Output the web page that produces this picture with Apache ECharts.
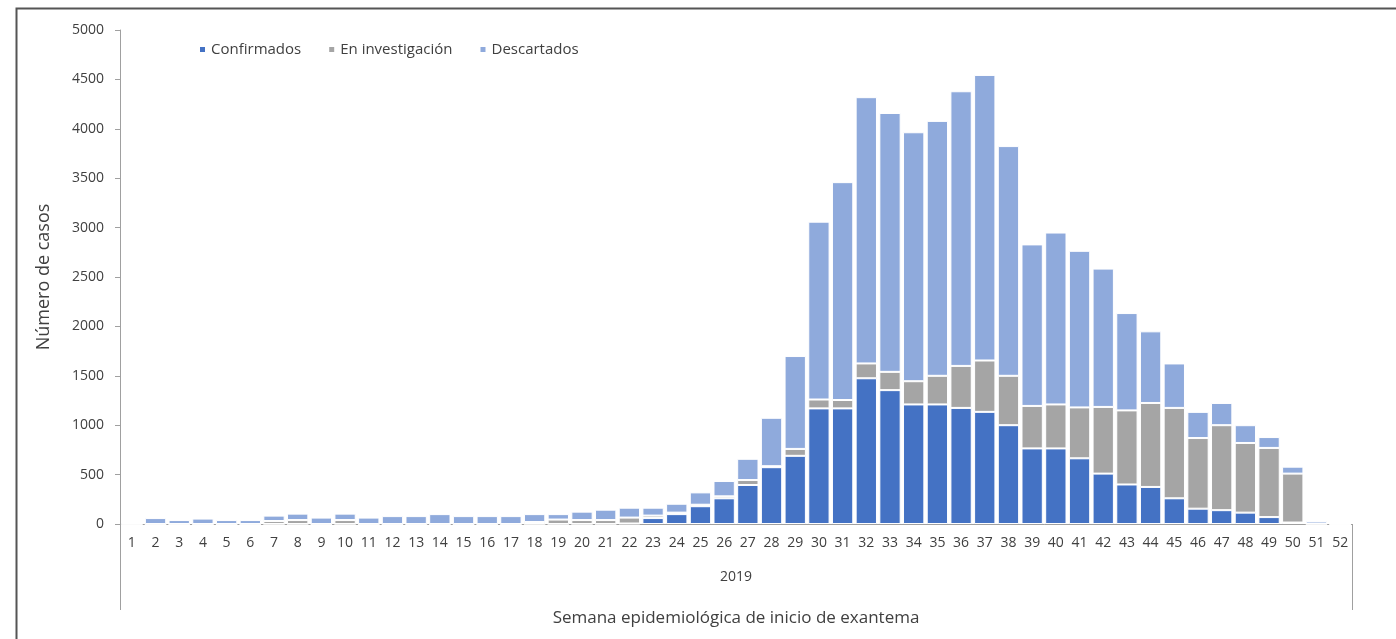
<!DOCTYPE html>
<html>
<head>
<meta charset="utf-8">
<script src="https://cdn.jsdelivr.net/npm/echarts@6/dist/echarts.min.js"></script>
<style>
  html, body { margin: 0; padding: 0; background: #fff; }
  #chart { width: 1396px; height: 639px; }
</style>
</head>
<body>
<div id="chart"></div>
<script>
// semanas epidemiológicas 1..52
var weeks = [];
for (var w = 1; w <= 52; w++) weeks.push(String(w));

var confirmados = [
  0, 0, 0, 0, 0, 0, 0, 0, 0, 0,
  0, 0, 0, 0, 0, 0, 0, 0, 0, 0,
  0, 5, 60, 100, 180, 260, 395, 575, 690, 1170,
  1170, 1475, 1355, 1210, 1210, 1175, 1135, 1000, 765, 765,
  665, 510, 400, 375, 260, 155, 140, 115, 70, 15,
  0, 0
];
var investigacion = [
  0, 0, 0, 0, 0, 0, 30, 40, 0, 40,
  0, 0, 0, 0, 0, 0, 0, 20, 45, 40,
  40, 60, 25, 15, 15, 20, 50, 10, 70, 90,
  85, 150, 185, 235, 290, 425, 520, 500, 430, 445,
  515, 675, 750, 850, 915, 715, 860, 705, 700, 495,
  5, 0
];
var descartados = [
  15, 60, 40, 55, 40, 40, 55, 65, 65, 65,
  65, 80, 80, 100, 80, 80, 80, 80, 55, 85,
  105, 100, 80, 90, 125, 155, 215, 490, 940, 1800,
  2205, 2695, 2620, 2520, 2580, 2780, 2890, 2325, 1635, 1740,
  1585, 1400, 985, 725, 450, 265, 225, 180, 110, 70,
  25, 0
];
var yTicks = [0, 500, 1000, 1500, 2000, 2500, 3000, 3500, 4000, 4500, 5000];

var font = "'Open Sans', 'Noto Sans', sans-serif";
var textColor = "#404040";

var chart = echarts.init(document.getElementById("chart"));

function serie(name, data, color) {
  return {
    name: name,
    type: "bar",
    stack: "total",
    data: data,
    barCategoryGap: "10%",
    itemStyle: { color: color, borderColor: "#fff", borderWidth: 1 }
  };
}

chart.setOption({
  animation: false,
  textStyle: { fontFamily: font },
  graphic: [
    {
      type: "rect",
      left: 14, top: 6,
      shape: { width: 1420, height: 700 },
      style: { fill: "none", stroke: "#555", lineWidth: 2 }
    }
  ],
  legend: {
    data: ["Confirmados", "En investigación", "Descartados"],
    left: 193,
    top: 37,
    icon: "rect",
    itemWidth: 7,
    itemHeight: 7,
    itemGap: 26,
    textStyle: { color: textColor, fontSize: 15, fontFamily: font }
  },
  grid: { left: 120, right: 44, top: 30, bottom: 115 },
  xAxis: [
    {
      type: "category",
      data: weeks,
      axisLine: { lineStyle: { color: "#a0a0a0", width: 1 } },
      axisTick: { show: false },
      axisLabel: { color: textColor, fontSize: 14, margin: 12, interval: 0 }
    },
    {
      type: "category",
      data: ["2019"],
      position: "bottom",
      axisLine: { show: false },
      axisTick: { show: true, length: 86, lineStyle: { color: "#a0a0a0" } },
      axisLabel: { color: textColor, fontSize: 14, margin: 46 },
      name: "Semana epidemiológica de inicio de exantema",
      nameLocation: "middle",
      nameGap: 86,
      nameTextStyle: { color: textColor, fontSize: 17 }
    }
  ],
  yAxis: {
    type: "value",
    min: yTicks[0],
    max: yTicks[yTicks.length - 1],
    interval: 500,
    axisLine: { show: true, lineStyle: { color: "#a0a0a0" } },
    axisTick: { show: true, length: 5, lineStyle: { color: "#a0a0a0" } },
    axisLabel: {
      color: textColor, fontSize: 14, margin: 16,
      formatter: function (v) { return String(v); }
    },
    splitLine: { show: false },
    name: "Número de casos",
    nameLocation: "middle",
    nameGap: 67,
    nameTextStyle: { color: textColor, fontSize: 18 }
  },
  series: [
    serie("Confirmados", confirmados, "#4472C4"),
    serie("En investigación", investigacion, "#A5A5A5"),
    serie("Descartados", descartados, "#8FAADC")
  ]
});
</script>
</body>
</html>
